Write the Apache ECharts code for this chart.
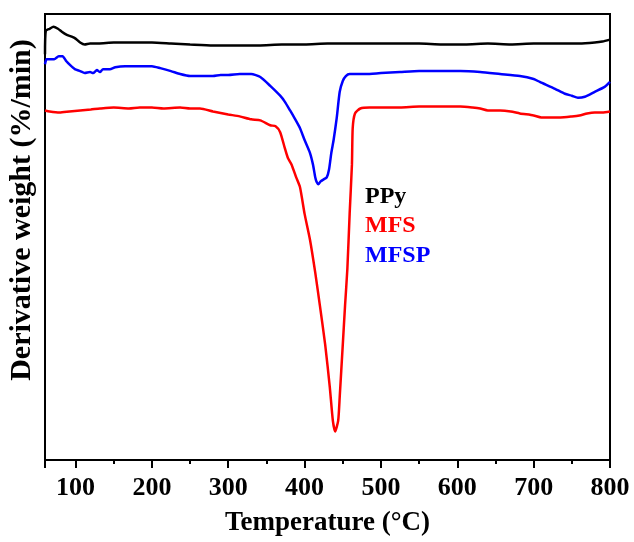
<!DOCTYPE html>
<html>
<head>
<meta charset="utf-8">
<script src="https://cdn.jsdelivr.net/npm/echarts@6/dist/echarts.min.js"></script>
<style>html,body{margin:0;padding:0;background:#fff;}#c{width:634px;height:542px;}</style>
</head>
<body>
<div id="c"></div>
<script>
// Temperature (°C) and derivative weight (arbitrary offset units)
var ppyT = [60, 61, 66, 71, 77, 82, 88, 95, 100, 106, 112, 119, 130, 150, 175, 200, 225, 250, 280, 310, 340, 370, 400, 430, 460, 490, 520, 550, 580, 610, 640, 670, 700, 730, 760, 780, 790, 800];
var ppyV = [412, 436, 438, 440, 438, 435, 432, 430, 428, 424, 422, 423, 423, 424, 424, 424, 423, 422, 421, 421, 421, 422, 422, 423, 423, 423, 423, 423, 422, 422, 423, 422, 423, 423, 423, 424, 425, 427];

var mfsT = [60, 66, 79, 92, 106, 120, 132, 150, 170, 184, 200, 215, 237, 250, 263, 280, 300, 315, 330, 342, 355, 362, 368, 374, 378, 383, 389, 394, 400, 407, 414, 420, 427, 433, 437, 440, 444, 446, 450, 453, 456, 459, 462, 463, 466, 473, 485, 500, 525, 550, 577, 604, 620, 630, 640, 656, 670, 682, 700, 710, 720, 735, 750, 760, 770, 780, 790, 800];
var mfsV = [355, 354, 353, 354, 355, 356, 357, 358, 357, 358, 358, 357, 358, 357, 357, 354, 351, 349, 346, 345, 340, 339, 333, 317, 307, 300, 287, 277, 250, 224, 190, 157, 117, 74, 40, 29, 40, 64, 117, 157, 194, 250, 300, 337, 352, 357, 358, 358, 358, 359, 359, 359, 358, 357, 355, 355, 354, 352, 350, 348, 348, 348, 349, 350, 352, 353, 353, 354];

var mfspT = [60, 62, 66, 72, 78, 83, 88, 93, 99, 106, 112, 119, 123, 128, 132, 136, 145, 152, 165, 185, 200, 211, 225, 237, 250, 260, 270, 280, 290, 300, 315, 330, 342, 355, 368, 374, 381, 387, 394, 400, 407, 411, 414, 416, 418, 421, 425, 429, 432, 435, 438, 442, 446, 450, 454, 459, 466, 480, 500, 525, 550, 577, 604, 630, 656, 682, 700, 708, 728, 741, 750, 758, 767, 780, 793, 800];
var mfspV = [402, 407, 407, 407, 410, 410, 405, 401, 397, 395, 393, 394, 393, 396, 394, 397, 397, 399, 400, 400, 400, 398, 395, 392, 390, 390, 390, 390, 391, 391, 392, 392, 389, 380, 370, 364, 355, 347, 337, 325, 312, 300, 287, 282, 280, 283, 285, 287, 295, 312, 325, 347, 374, 385, 390, 392, 392, 392, 393, 394, 395, 395, 395, 394, 392, 390, 387, 384, 377, 372, 370, 368, 369, 374, 379, 384];

var xTicks = [100, 200, 300, 400, 500, 600, 700, 800];

function pairs(t, v) { return t.map(function (x, i) { return [x, v[i]]; }); }

var serif = '"Liberation Serif", "Times New Roman", serif';
var chart = echarts.init(document.getElementById('c'), null, {renderer: 'canvas'});
chart.setOption({
  animation: false,
  backgroundColor: '#fff',
  grid: {left: 45, right: 24, top: 14, bottom: 75, show: true, borderColor: '#000', borderWidth: 2, backgroundColor: 'transparent'},
  xAxis: {
    type: 'value', min: 60, max: 800, splitNumber: 8, minInterval: 100, maxInterval: 100,
    axisLine: {show: true, lineStyle: {color: '#000', width: 2}},
    axisTick: {show: true, inside: false, length: 8, lineStyle: {color: '#000', width: 2}},
    minorTick: {show: true, splitNumber: 2, length: 4, lineStyle: {color: '#000', width: 2}},
    splitLine: {show: false},
    axisLabel: {
      showMinLabel: false, color: '#000', fontFamily: serif, fontWeight: 'bold', fontSize: 26, margin: 15,
      formatter: function (v) { return xTicks.indexOf(v) >= 0 ? String(v) : ''; }
    },
    name: 'Temperature (\u00B0C)', nameLocation: 'middle', nameGap: 50,
    nameTextStyle: {color: '#000', fontFamily: serif, fontWeight: 'bold', fontSize: 27}
  },
  yAxis: {
    type: 'value', min: 0, max: 453,
    axisLine: {show: true, lineStyle: {color: '#000', width: 2}},
    axisTick: {show: false}, axisLabel: {show: false}, splitLine: {show: false}
  },
  graphic: [
    {type: 'text', x: 22, y: 210, rotation: Math.PI / 2, z: 10,
     style: {text: 'Derivative weight (%/min)', fill: '#000', font: 'bold 30px ' + serif, textAlign: 'center', textVerticalAlign: 'middle'}},
    {type: 'text', x: 365, y: 197, style: {text: 'PPy', fill: '#000', font: 'bold 24px ' + serif, textAlign: 'left', textVerticalAlign: 'middle'}},
    {type: 'text', x: 365, y: 226, style: {text: 'MFS', fill: '#ff0000', font: 'bold 24px ' + serif, textAlign: 'left', textVerticalAlign: 'middle'}},
    {type: 'text', x: 365, y: 256, style: {text: 'MFSP', fill: '#0000ff', font: 'bold 24px ' + serif, textAlign: 'left', textVerticalAlign: 'middle'}}
  ],
  series: [
    {name: 'PPy', type: 'line', data: pairs(ppyT, ppyV), showSymbol: false, smooth: 0.2, lineStyle: {color: '#000', width: 2.5}, itemStyle: {color: '#000'}},
    {name: 'MFS', type: 'line', data: pairs(mfsT, mfsV), showSymbol: false, smooth: 0.2, lineStyle: {color: '#ff0000', width: 2.5}, itemStyle: {color: '#ff0000'}},
    {name: 'MFSP', type: 'line', data: pairs(mfspT, mfspV), showSymbol: false, smooth: 0.2, lineStyle: {color: '#0000ff', width: 2.5}, itemStyle: {color: '#0000ff'}}
  ]
});
</script>
</body>
</html>
